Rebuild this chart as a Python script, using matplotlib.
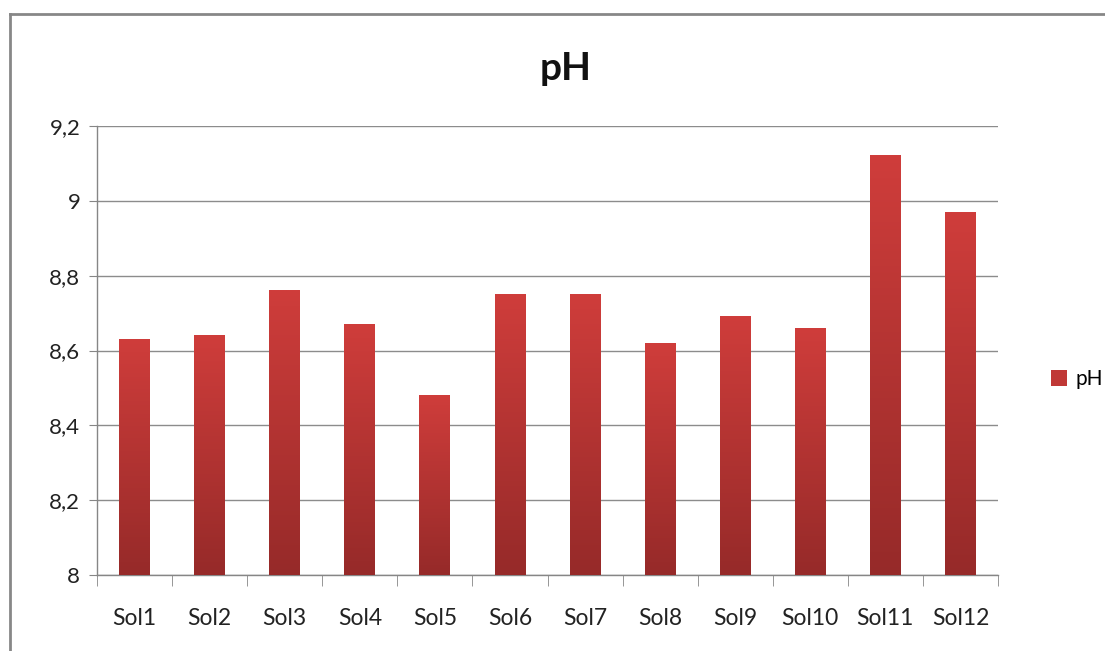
import numpy as np
import matplotlib
matplotlib.use("Agg")
import matplotlib.pyplot as plt
from matplotlib.colors import LinearSegmentedColormap
from matplotlib.lines import Line2D
from matplotlib.ticker import FuncFormatter

# ---------------------------------------------------------------------------
#  Data
# ---------------------------------------------------------------------------
samples = ["Sol1", "Sol2", "Sol3", "Sol4", "Sol5", "Sol6",
           "Sol7", "Sol8", "Sol9", "Sol10", "Sol11", "Sol12"]
ph = [8.63, 8.64, 8.76, 8.67, 8.48, 8.75, 8.75, 8.62, 8.69, 8.66, 9.12, 8.97]
y_ticks = [8.0, 8.2, 8.4, 8.6, 8.8, 9.0, 9.2]

plt.rcParams["font.family"] = ["Lato", "DejaVu Sans"]

W, H = 1105, 651
fig = plt.figure(figsize=(W / 100, H / 100), dpi=100)
ax = fig.add_axes([97 / W, 1 - 575 / H, 901 / W, 449 / H])

# bar gradient: lighter red on top, darker at the base
grad = LinearSegmentedColormap.from_list("bar", ["#962a29", "#cf3d3b"])
x = np.arange(len(samples))
bw = 0.41
bars = ax.bar(x, np.array(ph) - 8.0, bottom=8.0, width=bw, color="#c03836",
              edgecolor="none", zorder=2, label="pH")
g = np.linspace(0, 1, 256).reshape(-1, 1)
for b in bars:
    x0, y0 = b.get_x(), b.get_y()
    ax.imshow(g, extent=(x0, x0 + b.get_width(), y0, y0 + b.get_height()),
              origin="lower", cmap=grad, aspect="auto", zorder=3,
              vmin=0, vmax=1, interpolation="bilinear")

ax.set_xlim(-0.5, len(samples) - 0.5)
ax.set_ylim(8.0, 9.2)
ax.set_yticks(y_ticks)
ax.yaxis.set_major_formatter(FuncFormatter(
    lambda v, _: ("%g" % round(v, 1)).replace(".", ",")))
ax.set_xticks(x)
ax.set_xticklabels(samples)
ax.set_xticks(np.arange(len(samples) + 1) - 0.5, minor=True)

ax.grid(axis="y", color="#8c8c8c", linewidth=1.0, zorder=1)
for s in ["top", "right"]:
    ax.spines[s].set_visible(False)
for s in ["left", "bottom"]:
    ax.spines[s].set_color("#868686")
    ax.spines[s].set_linewidth(1.0)

ax.tick_params(axis="x", which="major", length=0, pad=24, labelsize=16.5,
               colors="#222222")
ax.tick_params(axis="x", which="minor", length=8, color="#868686")
ax.tick_params(axis="y", length=6, color="#868686", pad=6, labelsize=16,
               labelcolor="#222222")

fig.text(566 / W, 1 - 69 / H, "pH", ha="center", va="center",
         fontsize=28, fontweight="bold", color="#111111")

# legend
fig.legend(handles=[bars], labels=["pH"], loc="center left",
           bbox_to_anchor=(1032 / W, 1 - 379 / H), frameon=False,
           fontsize=15, handlelength=0.8, handleheight=0.8, handletextpad=0.4)

# chart frame (screenshot cropped on the right and bottom)
fig.add_artist(Line2D([10 / W, 10 / W], [0, 1 - 14 / H], transform=fig.transFigure,
                      color="#878787", linewidth=2))
fig.add_artist(Line2D([10 / W, 1], [1 - 14 / H, 1 - 14 / H], transform=fig.transFigure,
                      color="#878787", linewidth=2))

fig.savefig("out.png", dpi=100, facecolor="white")
